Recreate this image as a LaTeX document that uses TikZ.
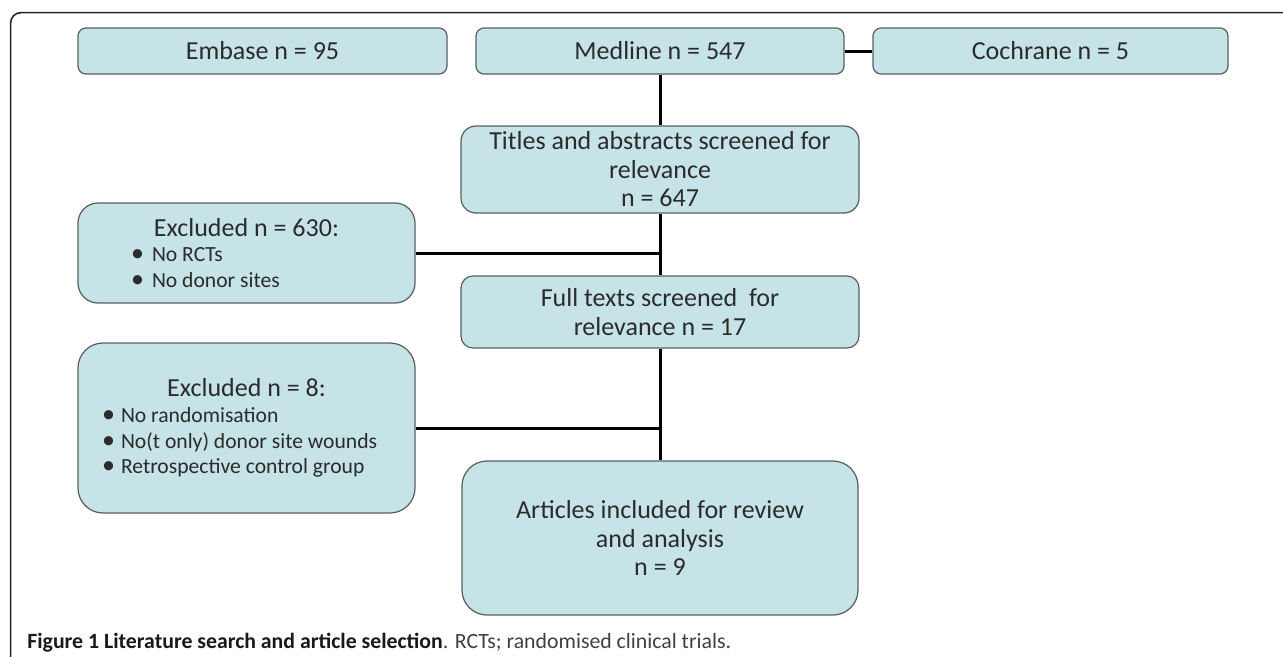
\documentclass[tikz,border=0pt]{standalone}
\usepackage{fontspec}
\setmainfont{Carlito}
\usepackage{xcolor}
\usetikzlibrary{shapes.geometric, arrows}
\definecolor{boxfill}{HTML}{C6E3E8}
\definecolor{boxline}{HTML}{5A5F61}
\definecolor{boxtext}{HTML}{2B2B2B}
\tikzstyle{source} = [rectangle, rounded corners=0.16cm,
minimum width=7.36cm,
minimum height=0.92cm,
text centered,
draw=boxline, line width=0.7pt,
fill=boxfill, text=boxtext,
font=\fontsize{14.8}{16.2}\selectfont]
\tikzstyle{stage} = [source, align=center]
\tikzstyle{exclbox} = [source, align=left, inner sep=0pt,
minimum width=6.74cm,
font=\fontsize{14.8}{14.6}\selectfont]
\tikzstyle{link} = [line width=1.7pt, black]
\newcommand{\exhead}[1]{\makebox[6.74cm]{#1}}
\newcommand{\exitem}[3]{\makebox[6.74cm][l]{\hspace*{#1}\makebox[#2][l]{\textbullet}{\fontsize{12.3}{14.6}\selectfont #3}}}

\begin{document}
\begin{tikzpicture}
        \useasboundingbox (0,0) rectangle (25.66,-13.12);
        % outer frame
        \draw [line width=0.9pt, black!85, rounded corners=0.2cm] (0.214,-13.5) |- (26,-0.254);
        % sources
        \node (medline) [source] at (13.2,-1.02) {Medline n = 547};
        \node (embase) [source, minimum width=7.38cm, node distance=7.95cm, left of=medline] {Embase n = 95};
        \node (cochrane) [source, minimum width=7.1cm, node distance=7.81cm, right of=medline] {Cochrane n = 5};
        % screening
        \node (titles) [stage, minimum width=7.96cm, minimum height=1.74cm, rounded corners=0.3cm,
            node distance=2.37cm, below of=medline] {Titles and abstracts screened for\\relevance\\n = 647};
        \node (full) [stage, minimum width=7.96cm, minimum height=1.44cm, rounded corners=0.24cm,
            node distance=2.85cm, below of=titles] {Full texts screened \ for\\relevance n = 17};
        \node (articles) [stage, minimum width=7.92cm, minimum height=3.08cm, rounded corners=0.5cm,
            node distance=4.52cm, below of=full] {Articles included for review\\and analysis\\n = 9};
        % exclusions
        \node (excla) [exclbox, minimum height=2.0cm, rounded corners=0.4cm] at (4.93,-5.06)
            {\exhead{Excluded n = 630:}\\
             \exitem{1.06cm}{0.42cm}{No RCTs}\\
             \exitem{1.06cm}{0.42cm}{No donor sites}};
        \node (exclb) [exclbox, minimum height=3.4cm, rounded corners=0.5cm] at (4.93,-8.56)
            {\exhead{Excluded n = 8:}\\
             \exitem{0.48cm}{0.38cm}{No randomisation}\\
             \exitem{0.48cm}{0.38cm}{No(t only) donor site wounds}\\
             \exitem{0.48cm}{0.38cm}{Retrospective control group}};
        % connectors
        \draw [link] (medline) -- (cochrane);
        \draw [link] (medline) -- (titles);
        \draw [link] (titles) -- (full);
        \draw [link] (full) -- (articles);
        \draw [link] (excla.east) -- (excla.east -| titles.south);
        \draw [link] (exclb.east) -- (exclb.east -| full.south);
        % caption
        \node (caption) [anchor=base west, inner sep=0pt, text=black!75,
            font=\fontsize{12.4}{15}\selectfont] at (0.54,-12.96)
            {\textcolor{black!90}{\textbf{Figure 1 Literature search and article selection}}. RCTs; randomised clinical trials.};
    \end{tikzpicture}
\end{document}
